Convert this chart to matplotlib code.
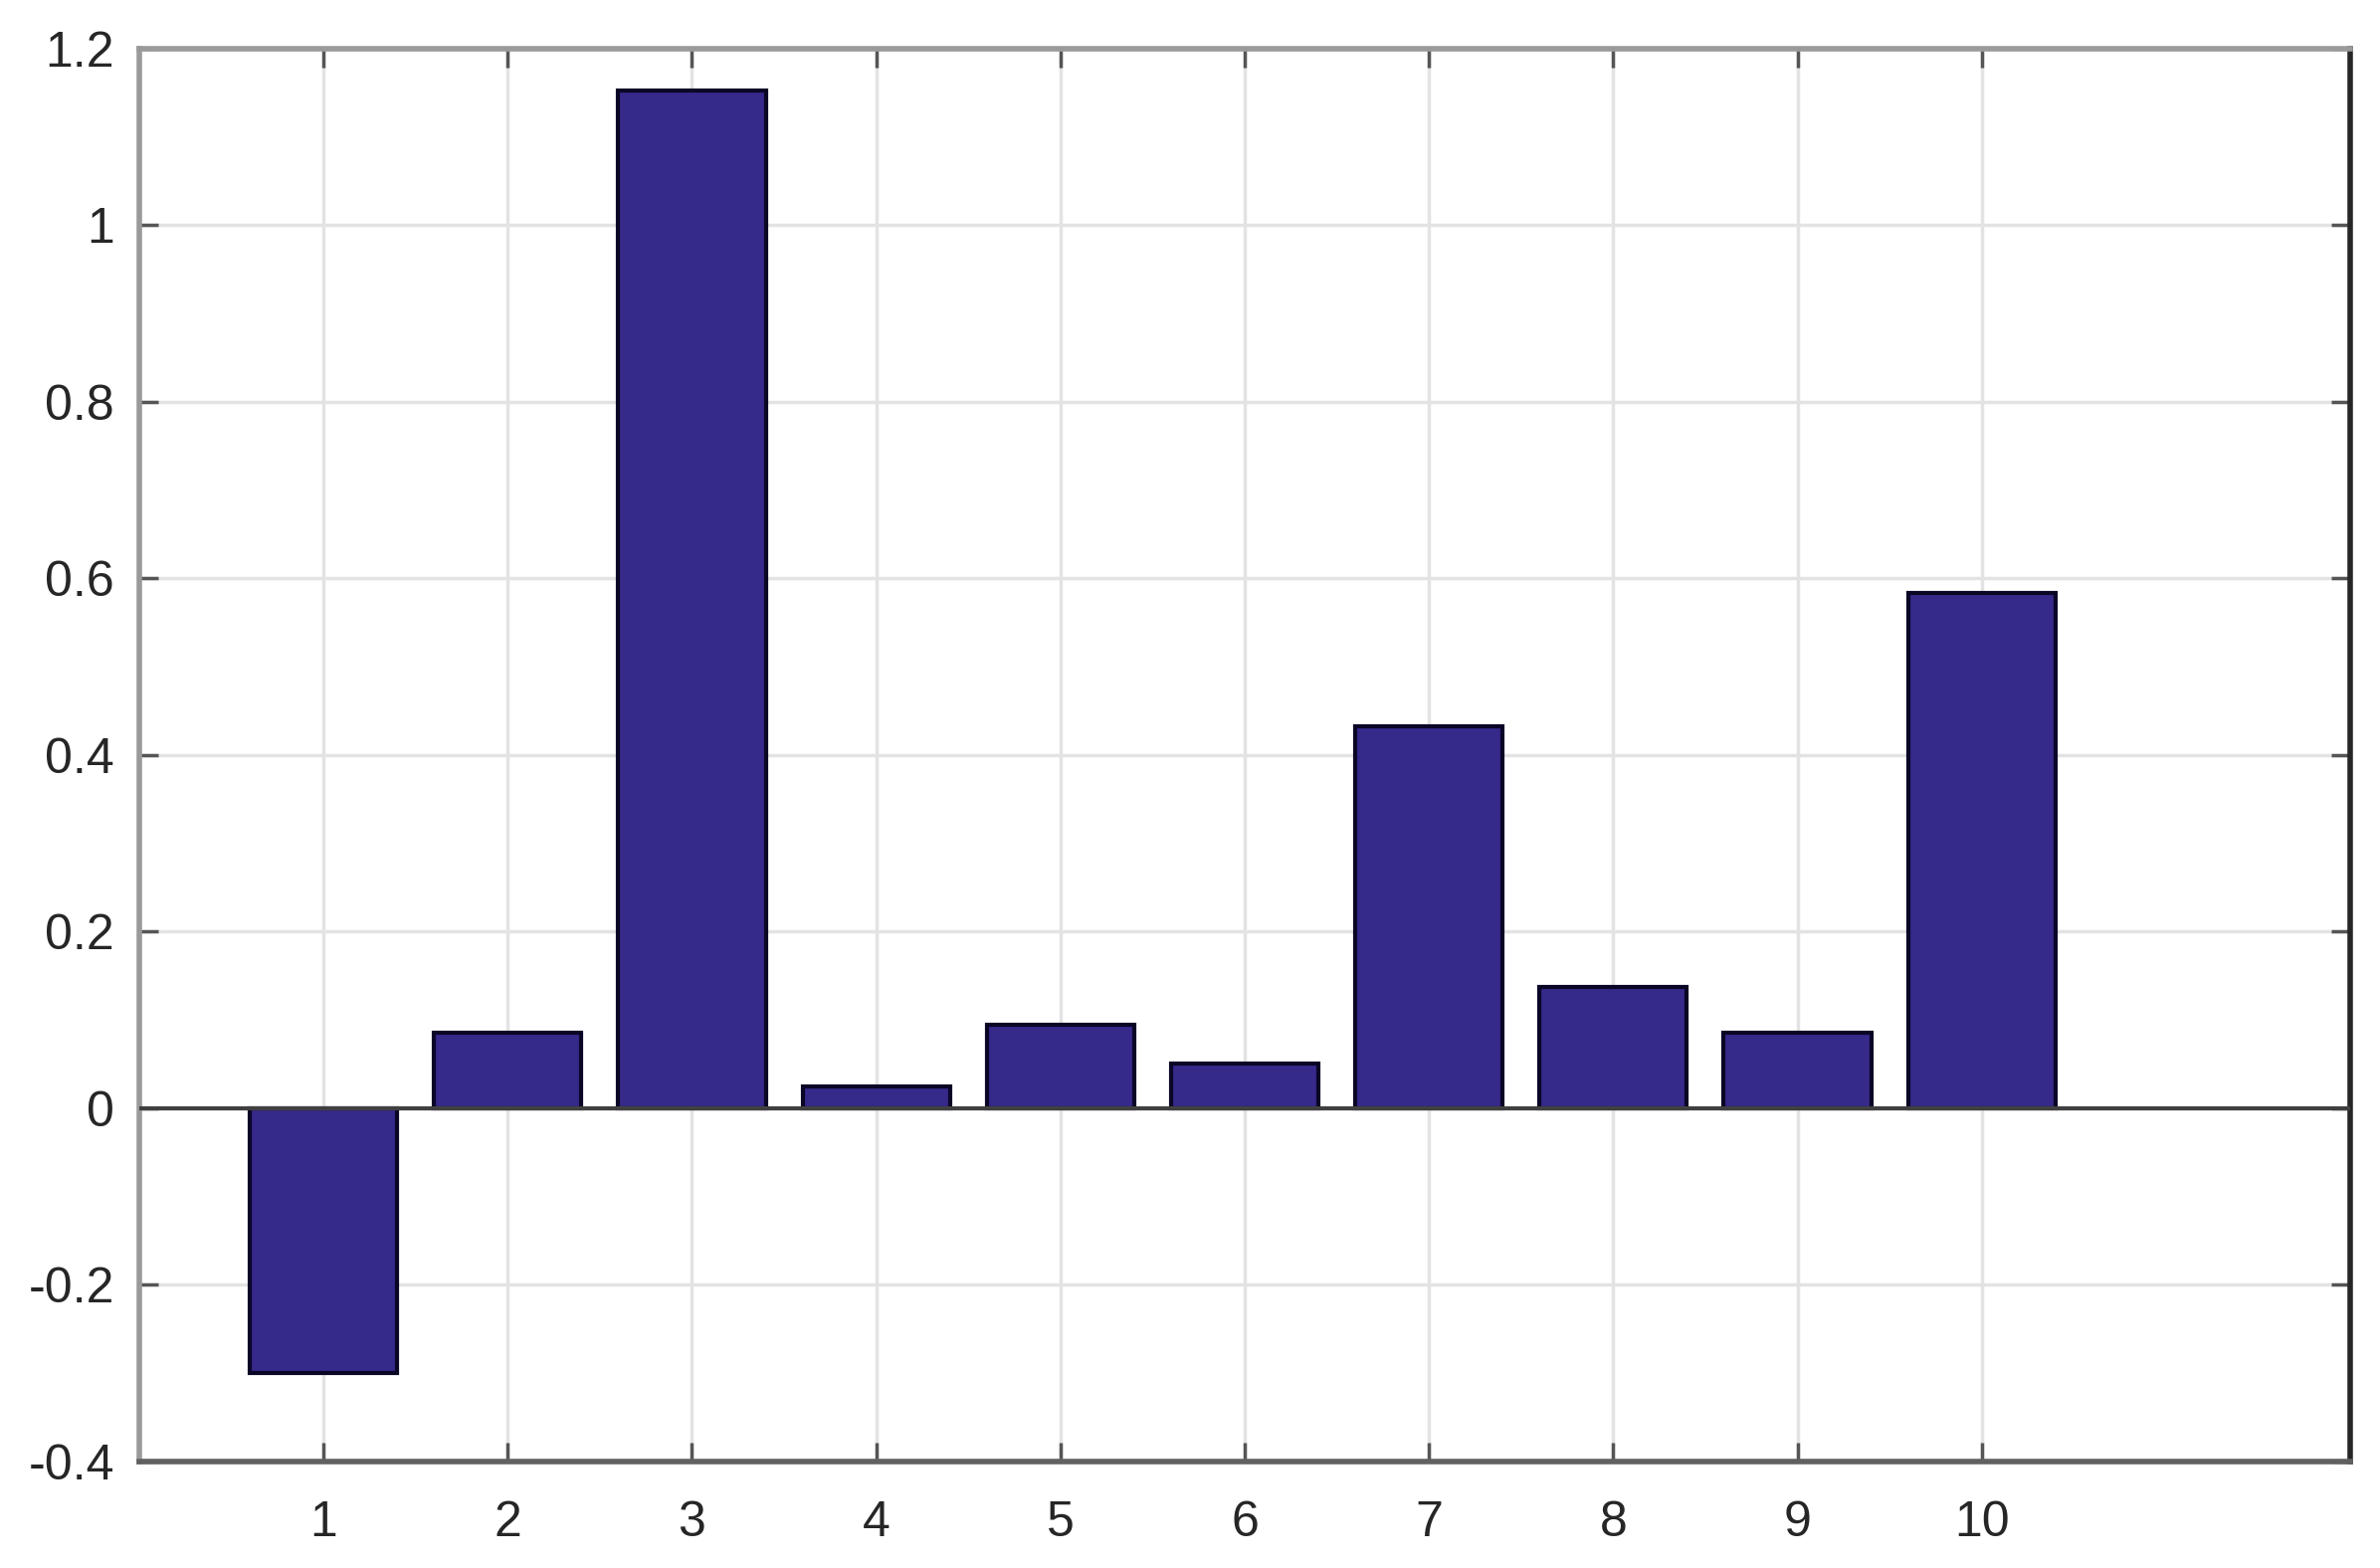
import numpy as np
import matplotlib
matplotlib.use('Agg')
import matplotlib.pyplot as plt

plt.rcParams['font.family'] = ['Liberation Sans', 'DejaVu Sans']

# bar data
idx = [1, 2, 3, 4, 5, 6, 7, 8, 9, 10]
vals = [-0.30, 0.085, 1.153, 0.025, 0.095, 0.051, 0.432, 0.137, 0.085, 0.584]
yticks = [-0.4, -0.2, 0, 0.2, 0.4, 0.6, 0.8, 1, 1.2]
ytick_labels = ['-0.4', '-0.2', '0', '0.2', '0.4', '0.6', '0.8', '1', '1.2']

fig = plt.figure(figsize=(23.92, 15.76), dpi=100)
ax = fig.add_axes([0.0585, 0.068, 0.929, 0.901])

ax.bar(idx, vals, width=0.8, color='#35298a', edgecolor='#0a0626', linewidth=3, zorder=3)
ax.axhline(0, color='#404040', lw=3, zorder=4)

ax.set_xlim(0, 12)
ax.set_ylim(-0.4, 1.2)
ax.set_xticks(idx)
ax.set_yticks(yticks)
ax.set_yticklabels(ytick_labels)

ax.grid(True, color='#e3e3e3', lw=2.5, zorder=0)
ax.set_axisbelow(True)
ax.tick_params(direction='in', length=14, width=2.5, color='#555555',
               labelsize=36, labelcolor='#262626', top=True, right=True, pad=18)
ax.tick_params(axis='x', pad=28)
for side in ['left', 'top']:
    ax.spines[side].set_color('#9a9a9a')
    ax.spines[side].set_linewidth(4)
ax.spines['bottom'].set_color('#606060')
ax.spines['bottom'].set_linewidth(4)
ax.spines['right'].set_color('#262626')
ax.spines['right'].set_linewidth(4)

fig.savefig('out.png', dpi=100)
